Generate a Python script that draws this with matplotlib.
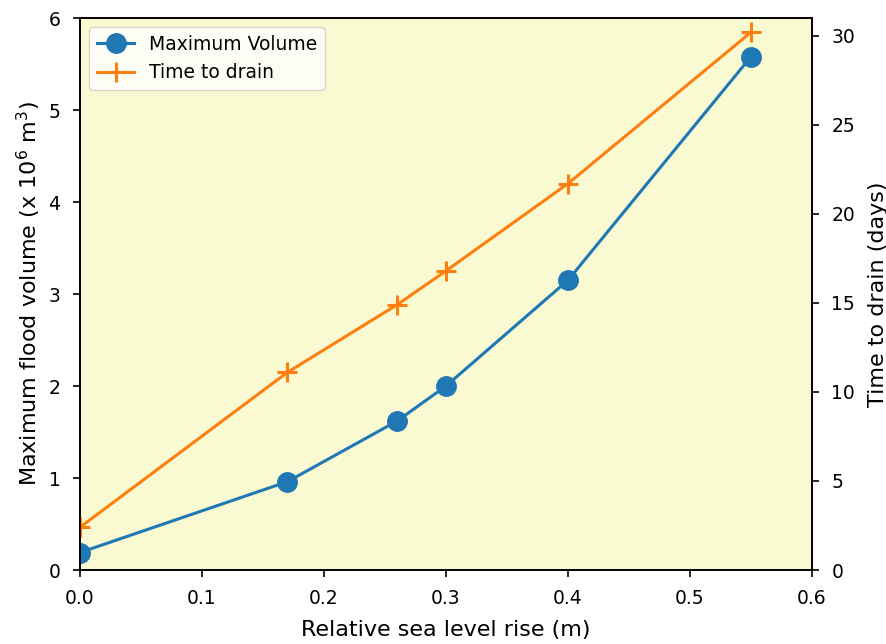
import matplotlib
matplotlib.use("Agg")
import matplotlib.pyplot as plt

slr = [0.0, 0.17, 0.26, 0.30, 0.40, 0.55]
max_volume = [0.19, 0.96, 1.62, 2.00, 3.15, 5.58]
time_to_drain = [2.4, 11.1, 14.9, 16.8, 21.7, 30.2]

fig = plt.figure(figsize=(8.87, 6.44), dpi=100)
ax = fig.add_axes([80/887, 1-570/644, (812-80)/887, (570-18)/644])
ax.set_facecolor('lightgoldenrodyellow')
ax2 = ax.twinx()

l1, = ax.plot(slr, max_volume, '-o', color='#1f77b4', lw=2.2, ms=14, label='Maximum Volume')
l2, = ax2.plot(slr, time_to_drain, '-+', color='#ff7f0e', lw=2.2, ms=15, mew=2.2, label='Time to drain')

ax.set_xlim(0, 0.6)
ax.set_ylim(0, 6)
ax2.set_ylim(0, 31)
ax2.set_yticks([0, 5, 10, 15, 20, 25, 30])

ax.set_xlabel('Relative sea level rise (m)', fontsize=16, labelpad=8)
ax.set_ylabel(r'Maximum flood volume (x 10$^6$ m$^3$)', fontsize=16, labelpad=4)
ax2.set_ylabel('Time to drain (days)', fontsize=16, labelpad=9)
for a in (ax, ax2):
    a.tick_params(labelsize=13.5, width=1.2, length=5, pad=9)
for s in list(ax.spines.values()) + list(ax2.spines.values()):
    s.set_linewidth(1.2)

ax.legend([l1, l2], ['Maximum Volume', 'Time to drain'], loc='upper left', fontsize=13.5)

fig.savefig('out.png', dpi=100)
